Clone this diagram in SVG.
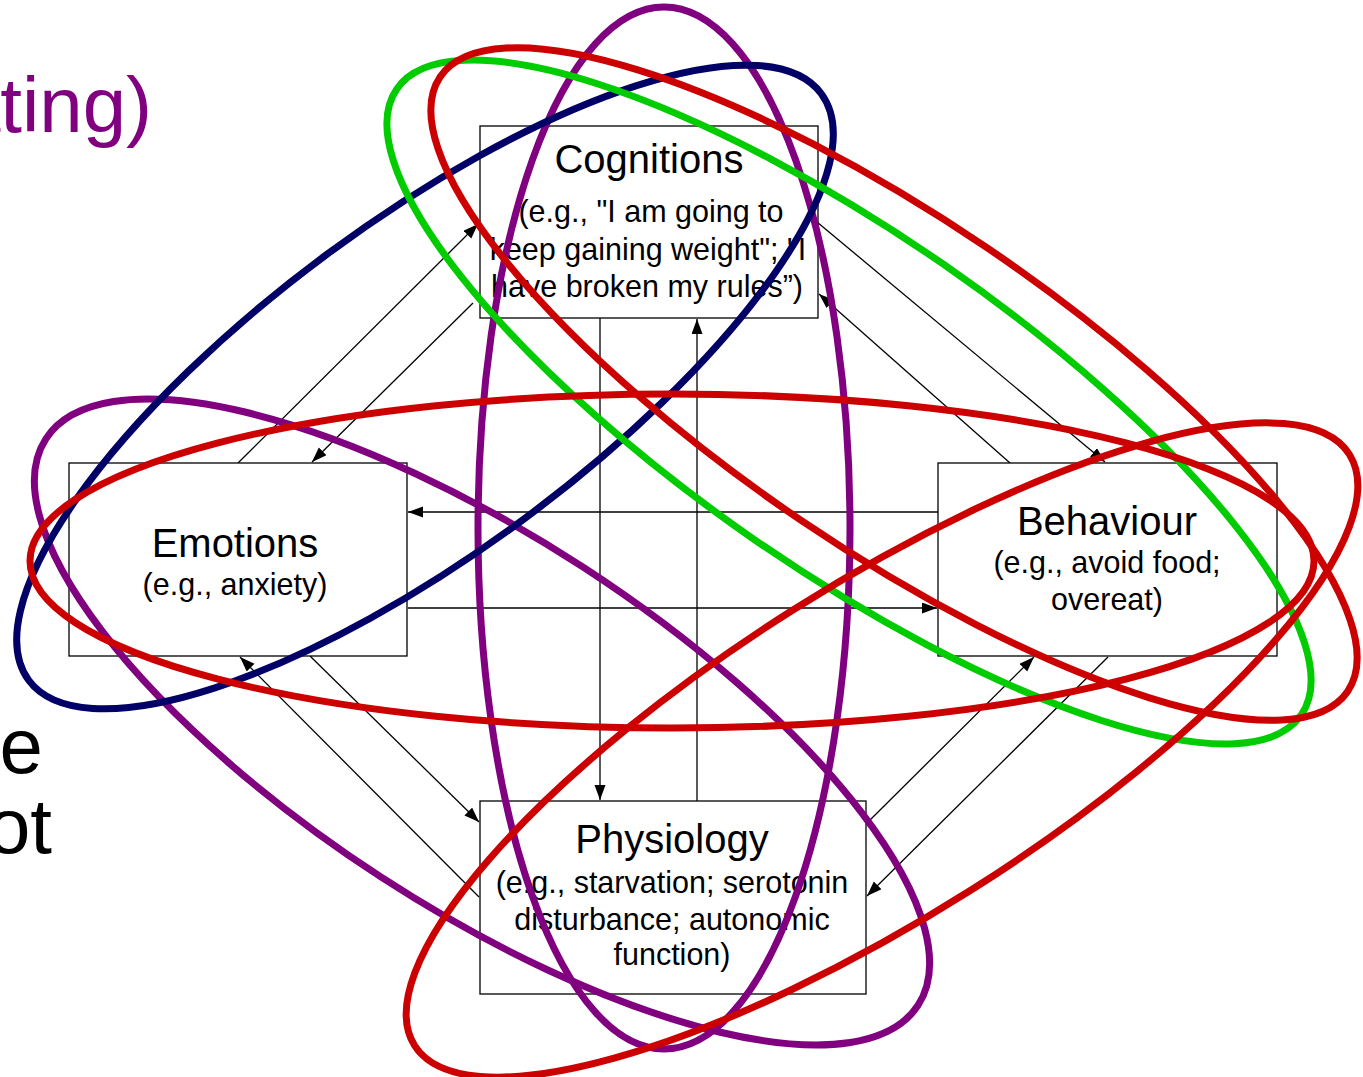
<svg xmlns="http://www.w3.org/2000/svg" width="1363" height="1077" viewBox="0 0 1363 1077">
<style>
.box{fill:#fff;stroke:#000;stroke-width:1.3}
.t{font-family:"Liberation Sans",Arial,sans-serif;fill:#000;text-anchor:middle}
.h{font-size:40px}
.s{font-size:30.5px}
.big{font-family:"Liberation Sans",Arial,sans-serif;font-size:78px;text-anchor:end}
.c{stroke:#000;stroke-width:1.3;fill:none;marker-end:url(#ah)}
.ov{fill:none;stroke-width:7}
</style>
<defs>
<marker id="ah" markerUnits="userSpaceOnUse" markerWidth="16" markerHeight="12" refX="15" refY="5.5" orient="auto">
<path d="M0,0 L15,5.5 L0,11 z" fill="#000"/>
</marker>
</defs>
<rect width="1363" height="1077" fill="#fff"/>
<text class="big" x="152" y="132" fill="#800080">ating)</text>
<text class="big" x="43" y="773" fill="#000">e</text>
<text class="big" x="52" y="853" fill="#000">ot</text>
<g id="connectors">
<line class="c" x1="238" y1="463" x2="478" y2="224"/>
<line class="c" x1="473" y1="303" x2="312" y2="462"/>
<line class="c" x1="817" y1="222" x2="1105" y2="462"/>
<line class="c" x1="1010" y1="463" x2="819" y2="294"/>
<line class="c" x1="938" y1="512" x2="408" y2="512"/>
<line class="c" x1="408" y1="608" x2="937" y2="608"/>
<line class="c" x1="600" y1="318" x2="600" y2="800"/>
<line class="c" x1="697" y1="801" x2="697" y2="319"/>
<line class="c" x1="310" y1="656" x2="479" y2="822"/>
<line class="c" x1="479" y1="897" x2="240" y2="657"/>
<line class="c" x1="867" y1="823" x2="1034" y2="657"/>
<line class="c" x1="1108" y1="657" x2="867" y2="896"/>
</g>
<g id="cognitions">
<rect class="box" x="480" y="126" width="338" height="192"/>
<text class="t h" x="649" y="173">Cognitions</text>
<text class="t s" x="651" y="222">(e.g., "I am going to</text>
<text class="t s" x="648" y="260">keep gaining weight"; "I</text>
<text class="t s" x="647" y="297">have broken my rules”)</text>
</g>
<g id="emotions">
<rect class="box" x="69" y="463" width="338" height="193"/>
<text class="t h" x="235" y="557">Emotions</text>
<text class="t s" x="235" y="595">(e.g., anxiety)</text>
</g>
<g id="behaviour">
<rect class="box" x="938" y="463" width="339" height="193"/>
<text class="t h" x="1107" y="535">Behaviour</text>
<text class="t s" x="1107" y="573">(e.g., avoid food;</text>
<text class="t s" x="1107" y="610">overeat)</text>
</g>
<g id="physiology">
<rect class="box" x="480" y="801" width="386" height="193"/>
<text class="t h" x="672" y="853">Physiology</text>
<text class="t s" x="672" y="893">(e.g., starvation; serotonin</text>
<text class="t s" x="672" y="930">disturbance; autonomic</text>
<text class="t s" x="672" y="965">function)</text>
</g>
<g id="ellipses">
<ellipse id="purple-vertical" class="ov" stroke="#800080" cx="664" cy="528" rx="186" ry="521"/>
<ellipse id="purple-tilted" class="ov" stroke="#800080" cx="0" cy="0" rx="520" ry="185" transform="translate(482 722) rotate(33)"/>
<ellipse id="navy" class="ov" stroke="#000066" cx="0" cy="0" rx="493" ry="165" transform="translate(425 387) rotate(-36.5)"/>
<ellipse id="green" class="ov" stroke="#00cc00" cx="0" cy="0" rx="550" ry="167" transform="translate(849 402) rotate(34.7)"/>
<ellipse id="red-a" class="ov" stroke="#cc0000" cx="0" cy="0" rx="548" ry="165" transform="translate(894 384) rotate(34.1)"/>
<ellipse id="red-h" class="ov" stroke="#cc0000" cx="672" cy="561" rx="642" ry="167"/>
<ellipse id="red-c" class="ov" stroke="#cc0000" cx="0" cy="0" rx="553" ry="166" transform="translate(882 750) rotate(-32.3)"/>
</g>
</svg>
